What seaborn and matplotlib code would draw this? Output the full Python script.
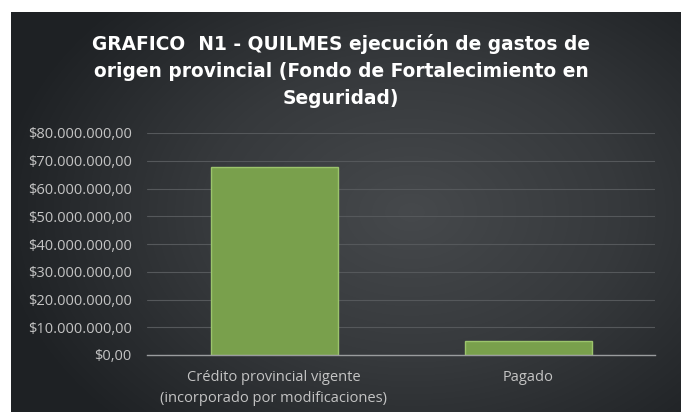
import numpy as np
import pandas as pd
import seaborn as sns
from matplotlib import pyplot as plt
from matplotlib.colors import LinearSegmentedColormap

categorias = ["Crédito provincial vigente\n(incorporado por modificaciones)", "Pagado"]
montos = [67850000, 5000000]
ticks_y = [0, 10000000, 20000000, 30000000, 40000000, 50000000, 60000000, 70000000, 80000000]

titulo = ("GRAFICO  N1 - QUILMES ejecución de gastos de\n"
          "origen provincial (Fondo de Fortalecimiento en\n"
          "Seguridad)")

df = pd.DataFrame({"categoria": categorias, "monto": montos})

sns.set_style("white")
plt.rcParams["font.family"] = ["Open Sans", "DejaVu Sans"]

fig = plt.figure(figsize=(6.82, 4.12), dpi=100, facecolor="white")

# fondo con degradado radial
bg = fig.add_axes([11 / 682, 0, 670 / 682, 400 / 412])
yy, xx = np.mgrid[0:400, 0:670]
r = np.sqrt(((xx - 400) / 420) ** 2 + ((yy - 200) / 300) ** 2)
cmap_bg = LinearSegmentedColormap.from_list("bg", ["#46494c", "#36393c", "#1e2124"])
bg.imshow(np.clip(r, 0, 1), cmap=cmap_bg, aspect="auto", vmin=0, vmax=1)
bg.axis("off")

ax = fig.add_axes([147 / 682, 57 / 412, 508 / 682, 222 / 412])
ax.set_facecolor("none")
sns.barplot(data=df, x="categoria", y="monto", color="#79a04c", width=0.5,
            edgecolor="#9cc46c", linewidth=1.0, saturation=1, ax=ax)

ax.set_ylim(0, 80000000)
ax.set_yticks(ticks_y)
ax.set_yticklabels(["$" + f"{v:,.2f}".replace(",", "X").replace(".", ",").replace("X", ".")
                    for v in ticks_y])
ax.set_xlabel("")
ax.set_ylabel("")
ax.grid(axis="y", color="#55585b", linewidth=0.8)
ax.set_axisbelow(True)
for s in ["top", "right", "left"]:
    ax.spines[s].set_visible(False)
ax.spines["bottom"].set_color("#9a9c9e")
ax.spines["bottom"].set_linewidth(1.0)
ax.tick_params(axis="both", length=0, colors="#c4c4c4", labelsize=10.5)
ax.tick_params(axis="y", pad=11)
ax.tick_params(axis="x", pad=11)
for t in ax.get_xticklabels():
    t.set_linespacing(1.5)

fig.text(0.5, 1 - 71 / 412, titulo, ha="center", va="center", color="white",
         fontsize=13.4, fontweight="bold", linespacing=1.5, family=["DejaVu Sans"])

fig.savefig("out.png", dpi=100, facecolor="white")
